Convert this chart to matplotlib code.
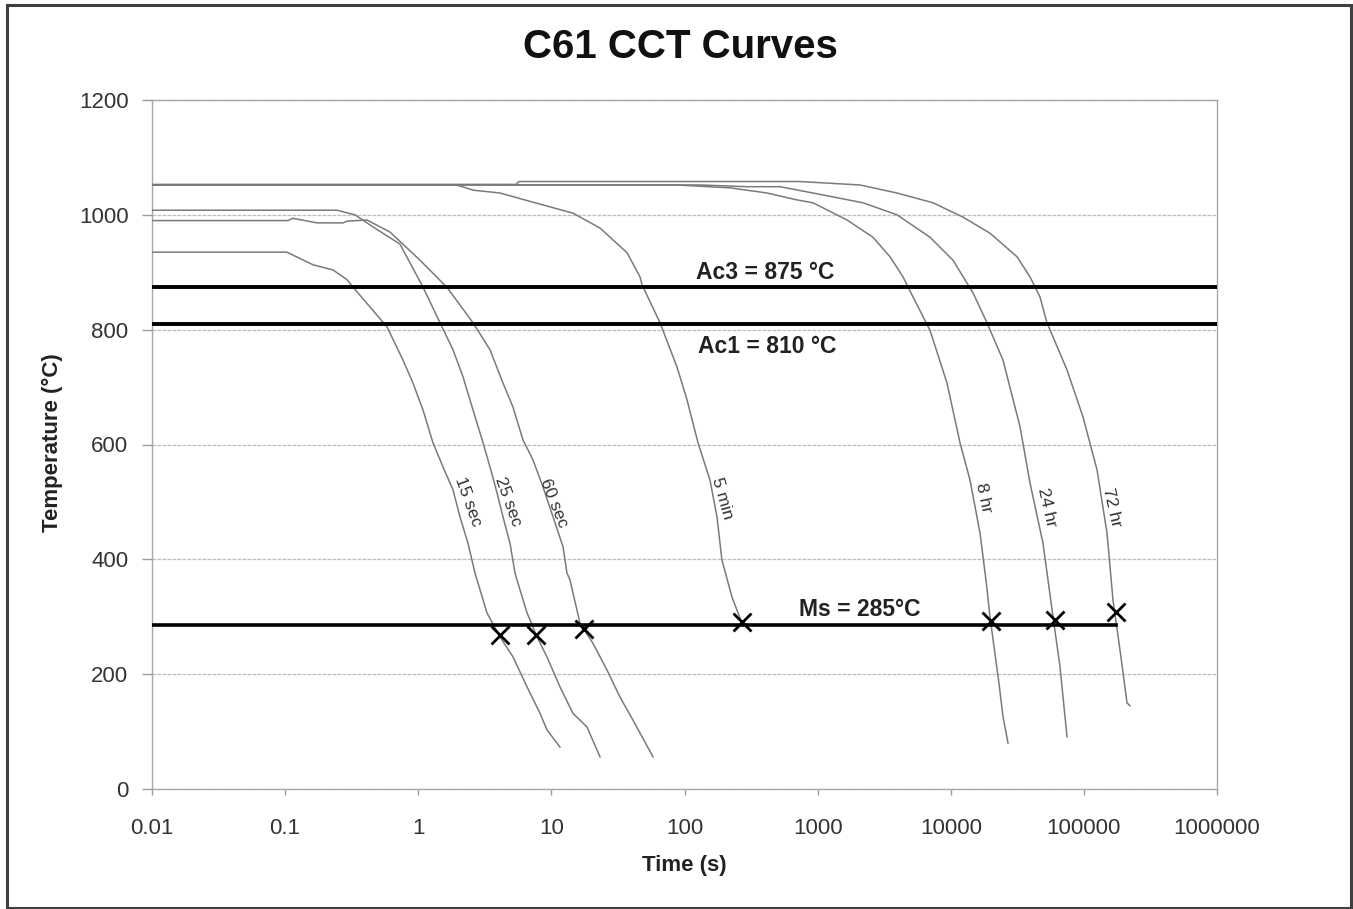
import matplotlib
matplotlib.use("Agg")
import matplotlib.pyplot as plt
from matplotlib.patches import Rectangle

plt.rcParams['font.family'] = ['Liberation Sans', 'DejaVu Sans']

# cooling curves, time (s) vs temperature (°C)
t_15s = [0.01, 0.103, 0.162, 0.229, 0.292, 0.324, 0.582, 0.768, 0.913, 1.086, 1.29, 1.534,
         1.824, 2.059, 2.364, 2.669, 3.28, 4.11, 5.15, 6.56, 8.21, 9.27, 11.6]
T_15s = [935, 935, 913, 904, 887, 874, 805, 747, 707, 660, 603, 561,
         521, 474, 428, 376, 307, 265, 230, 178, 132, 103, 73]

t_25s = [0.01, 0.245, 0.335, 0.457, 0.729, 1.086, 1.457, 1.824, 2.168, 2.579, 3.065, 3.459,
         3.904, 4.33, 4.89, 5.33, 5.52, 6.56, 7.80, 9.27, 11.6, 14.5, 18.5, 23.2]
T_25s = [1008, 1008, 1000, 979, 949, 874, 812, 765, 718, 660, 603, 561,
         516, 474, 428, 376, 364, 307, 265, 230, 178, 132, 108, 56]

t_60s = [0.01, 0.105, 0.114, 0.174, 0.272, 0.292, 0.412, 0.614, 1.03, 1.64, 2.579, 3.459,
         4.33, 5.15, 6.12, 7.28, 8.65, 10.29, 12.23, 13.1, 13.8, 16.4, 20.5, 26.2, 32.8, 41.0, 58.0]
T_60s = [990, 990, 994, 986, 986, 989, 991, 970, 921, 874, 812, 765,
         707, 665, 608, 573, 526, 474, 422, 376, 364, 289, 254, 207, 160, 120, 56]

t_5min = [0.01, 1.95, 2.58, 4.11, 7.28, 14.5, 23.2, 37.0, 46.3, 48.0, 65.5, 87.8, 104.4,
          126.3, 155.4, 175.4, 191, 227.5, 270]
T_5min = [1052, 1052, 1043, 1038, 1022, 1003, 977, 934, 892, 878, 812, 735, 678,
          603, 538, 474, 399, 334, 289]

t_8hr = [0.01, 87.8, 220, 417, 700, 923, 1662, 2606, 3497, 4378, 5205, 6985, 9372,
         11735, 13951, 16585, 18500, 19717, 21300, 23000, 24700, 26917]
T_8hr = [1052, 1052, 1047, 1038, 1026, 1021, 991, 961, 927, 892, 857, 799, 707,
         603, 538, 446, 359, 300, 242, 185, 126, 80]

t_24hr = [0.01, 131, 295, 522, 923, 2192, 3948, 6985, 10397, 13249, 14698, 18721, 24692,
          33132, 39388, 49317, 58630, 66170, 74685]
T_24hr = [1052, 1052, 1049, 1049, 1038, 1021, 1000, 961, 921, 881, 864, 812, 747,
          631, 533, 428, 300, 213, 91]

t_72hr = [0.01, 5.42, 5.7, 737, 2080, 3948, 7355, 12359, 19717, 31450, 39388, 46805, 52833,
          74685, 98504, 125490, 149170, 165480, 186800, 210900, 222100]
T_72hr = [1053, 1053, 1058, 1058, 1052, 1038, 1021, 996, 968, 927, 892, 857, 812,
          730, 648, 556, 446, 329, 242, 150, 145]

curves = [(t_15s, T_15s), (t_25s, T_25s), (t_60s, T_60s), (t_5min, T_5min),
          (t_8hr, T_8hr), (t_24hr, T_24hr), (t_72hr, T_72hr)]

# curve labels and where they sit
curve_names = ['15 sec', '25 sec', '60 sec', '5 min', '8 hr', '24 hr', '72 hr']
label_t = [2.36, 4.72, 10.5, 191, 17775, 52833, 162700]
label_T = [500, 500, 498, 507, 507, 491, 491]
label_rot = [-70, -70, -68, -74, -78, -77, -77]

# martensite start points
ms_t = [4.12, 7.67, 17.6, 271, 20100, 60800, 175000]
ms_T = [268, 268, 279, 291, 293, 294, 308]

Ac3 = 875
Ac1 = 810
Ms = 285

x_ticks = [0.01, 0.1, 1, 10, 100, 1000, 10000, 100000, 1000000]
x_tick_labels = ['0.01', '0.1', '1', '10', '100', '1000', '10000', '100000', '1000000']
y_ticks = [0, 200, 400, 600, 800, 1000, 1200]

W, H = 1353, 909
fig = plt.figure(figsize=(W / 100, H / 100), dpi=100)
ax = fig.add_axes([152 / W, 1 - 789 / H, (1217 - 152) / W, (789 - 100) / H])

ax.set_xscale('log')
ax.set_xlim(0.01, 1e6)
ax.set_ylim(0, 1200)

for t, T in curves:
    ax.plot(t, T, color='#7a7a7a', lw=1.1, zorder=3)

ax.axhline(Ac3, color='black', lw=2.8, zorder=4)
ax.axhline(Ac1, color='black', lw=2.8, zorder=4)
ax.plot([0.01, ms_t[-1]], [Ms, Ms], color='black', lw=2.6, zorder=4)
ax.plot(ms_t, ms_T, ls='none', marker='x', ms=13, mew=2, color='black', zorder=5)

for name, tx, ty, rot in zip(curve_names, label_t, label_T, label_rot):
    ax.text(tx, ty, name, rotation=rot, ha='center', va='center', fontsize=12.5,
            color='#333333', zorder=6)

ax.text(402, 900, 'Ac3 = 875 °C', ha='center', va='center', fontsize=16.5,
        fontweight='bold', color='#222222')
ax.text(417, 771, 'Ac1 = 810 °C', ha='center', va='center', fontsize=16.5,
        fontweight='bold', color='#222222')
ax.text(2080, 312, 'Ms = 285°C', ha='center', va='center', fontsize=16.5,
        fontweight='bold', color='#222222')

ax.set_xticks(x_ticks)
ax.set_xticklabels(x_tick_labels)
ax.xaxis.set_minor_locator(matplotlib.ticker.NullLocator())
ax.set_yticks(y_ticks)
ax.tick_params(axis='x', labelsize=16, colors='#9a9a9a', labelcolor='#333333',
               length=4, width=1, pad=17)
ax.tick_params(axis='y', labelsize=16, colors='#9a9a9a', labelcolor='#333333',
               length=7, width=1, pad=10)

ax.yaxis.grid(True, color='#bdbdbd', lw=0.9, ls=(0, (3, 1)))
ax.set_axisbelow(True)
for side in ['left', 'bottom', 'right', 'top']:
    ax.spines[side].set_color('#a8a8a8')
    ax.spines[side].set_linewidth(1)
ax.spines['top'].set_linestyle((0, (3, 1)))

fig.text(680 / W, 1 - 47 / H, 'C61 CCT Curves', ha='center', va='center',
         fontsize=29, fontweight='bold', color='#111111')
fig.text(684 / W, 1 - 866 / H, 'Time (s)', ha='center', va='center',
         fontsize=16, fontweight='bold', color='#222222')
fig.text(52 / W, 1 - 443 / H, 'Temperature (°C)', ha='center', va='center',
         rotation=90, fontsize=16, fontweight='bold', color='#222222')

fig.patches.append(Rectangle((7 / W, 1 / H), (1351 - 7) / W, (904 - 1) / H,
                             transform=fig.transFigure, fill=False,
                             ec='#404040', lw=2.2))

fig.savefig('out.png', dpi=100)
